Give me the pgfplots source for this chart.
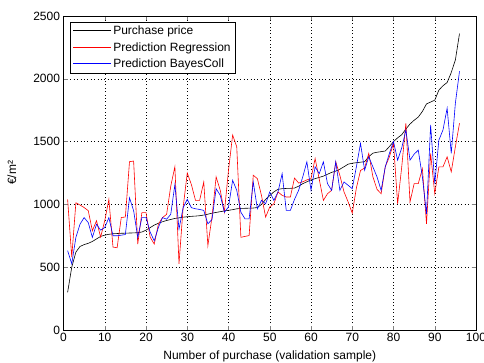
\documentclass[border=0pt]{standalone}
\usepackage{fontspec}
\setmainfont{Liberation Sans}
\usepackage{pgfplots}
\usepackage{pgfplotstable}
\pgfplotsset{compat=1.18}
\definecolor{mblue}{rgb}{0,0,1}
\definecolor{mred}{rgb}{1,0,0}
\pgfplotstableread{
x black red blue
1 300 1040 632
2 500 580 527
3 620 1013 737
4 665 995 842
5 680 975 895
6 690 950 855
7 705 790 737
8 725 870 842
9 745 740 795
10 755 870 816
11 762 1040 895
12 766 660 750
13 768 655 750
14 770 895 755
15 771 900 760
16 772 1340 1053
17 773 1345 950
18 775 684 737
19 780 934 895
20 795 934 895
21 815 740 780
22 835 684 710
23 850 842 816
24 862 895 895
25 872 921 882
26 880 1145 921
27 888 1300 1158
28 893 527 803
29 898 974 974
30 902 1250 1040
31 905 1158 974
32 907 1032 965
33 910 1032 960
34 915 1179 952
35 922 672 845
36 930 900 880
37 936 1219 1125
38 942 1112 1072
39 948 938 938
40 953 1272 979
41 958 1552 1192
42 965 1459 1112
43 968 738 938
44 969 745 885
45 970 752 885
46 971 1232 1179
47 975 1205 965
48 1000 1070 1032
49 1040 899 1005
50 1070 979 1099
51 1100 1005 1032
52 1120 1099 1099
53 1125 1072 1245
54 1127 1059 952
55 1128 1059 952
56 1130 1210 1040
57 1145 1170 1112
58 1165 1180 1219
59 1180 1195 1339
60 1195 1205 1112
61 1205 1366 1299
62 1215 1200 1245
63 1225 1032 1339
64 1240 1085 1165
65 1255 1112 1112
66 1265 1339 1339
67 1280 1230 1112
68 1300 1100 1179
69 1320 1020 1152
70 1328 930 1125
71 1332 1130 1299
72 1336 1270 1486
73 1340 1290 1272
74 1380 1406 1379
75 1408 1220 1299
76 1415 1120 1219
77 1420 1085 1112
78 1425 1299 1299
79 1460 1379 1406
80 1500 1486 1500
81 1530 1005 1352
82 1555 1300 1450
83 1600 1646 1593
84 1640 1019 1352
85 1670 1165 1400
86 1695 1165 1432
87 1740 1285 1219
88 1800 846 925
89 1815 1406 1633
90 1830 1085 1165
91 1910 1299 1512
92 1945 1299 1593
93 1970 1379 1766
94 2050 1259 1406
95 2150 1459 1806
96 2360 1646 2060
}\datatable
\begin{document}
\begin{tikzpicture}
\useasboundingbox (0,0) rectangle (484pt,363pt);
\begin{axis}[
  at={(63.5pt,33pt)}, anchor=south west,
  scale only axis, width=412.5pt, height=314pt,
  xmin=0, xmax=100, ymin=0, ymax=2500,
  xtick={0,10,...,100}, ytick={0,500,...,2500},
  tick align=inside, major tick length=4pt,
  xtick pos=both, ytick pos=both,
  grid=major,
  major grid style={black, line width=0.4pt, dash pattern=on 0.8pt off 2.6pt},
  axis line style={black, line width=0.5pt},
  /pgf/number format/assume math mode=true,
  /pgf/number format/1000 sep={},
  font=\fontsize{12}{14}\selectfont,
  tick label style={font=\fontsize{12}{14}\selectfont},
  xlabel={Number of purchase (validation sample)},
  ylabel={€/m²},
  xlabel style={at={(axis description cs:0.5,-0.083)}, anchor=center},
  ylabel style={at={(axis description cs:-0.125,0.5)}, anchor=center},
  legend style={at={(0.016,0.981)}, anchor=north west,
    font=\fontsize{12}{14}\selectfont, row sep=2pt, inner xsep=3pt, inner ysep=2pt},
  legend cell align=left,
]
\addlegendimage{legend image code/.code={\node[inner sep=0pt, anchor=west] at (0pt,0pt) {\textcolor{black}{\rule[-0.35pt]{38pt}{0.7pt}}};}}
\addlegendentry{Purchase price}
\addlegendimage{legend image code/.code={\node[inner sep=0pt, anchor=west] at (0pt,0pt) {\textcolor{mred}{\rule[-0.35pt]{38pt}{0.7pt}}};}}
\addlegendentry{Prediction Regression}
\addlegendimage{legend image code/.code={\node[inner sep=0pt, anchor=west] at (0pt,0pt) {\textcolor{mblue}{\rule[-0.35pt]{38pt}{0.7pt}}};}}
\addlegendentry{Prediction BayesColl}
\addplot[draw=black, line width=0.6pt, forget plot] table[x=x, y=black] {\datatable};
\addplot[draw=mred, line width=0.6pt, forget plot] table[x=x, y=red] {\datatable};
\addplot[draw=mblue, line width=0.6pt, forget plot] table[x=x, y=blue] {\datatable};
\end{axis}
\end{tikzpicture}
\end{document}
